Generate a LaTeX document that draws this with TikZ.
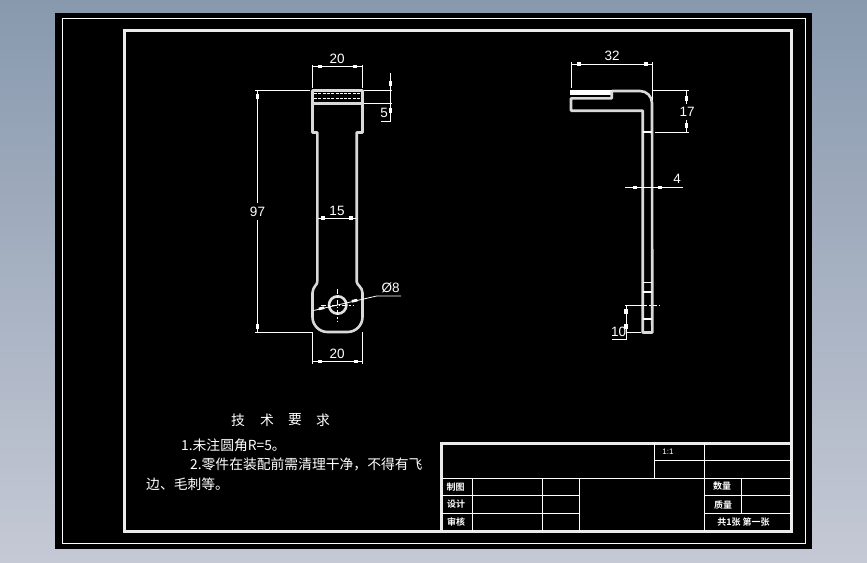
\documentclass[tikz,border=0pt]{standalone}
\usepackage{fontspec}
\setmainfont{Liberation Sans}
\newfontfamily\cjk{Noto Sans CJK SC}
\newfontfamily\cjkb{Noto Sans CJK SC Bold}
\definecolor{bgtop}{RGB}{136,153,174}
\definecolor{bgbot}{RGB}{197,201,213}
\newcommand{\hb}[2]{\fill[white] (#1-2,#2-1.6) rectangle (#1+2,#2+1.6);}
\newcommand{\vb}[2]{\fill[white] (#1-1.6,#2-2.5) rectangle (#1+1.6,#2+2.5);}
\tikzset{
  thinl/.style={draw=white,line width=0.8pt},
  cell/.style={draw=white,line width=1pt},
  obj/.style={draw=white,line width=1.9pt,line join=miter},
  objg/.style={draw=white!85!black,line width=2.6pt,line join=round},
  heavy/.style={draw=white!92!black,line width=2.6pt},
  dimtext/.style={text=white,font=\fontsize{13.5}{14}\selectfont,inner sep=0pt},
  note/.style={text=white,font=\fontsize{13.8}{14}\cjk,inner sep=0pt,anchor=west},
  tag/.style={text=white,font=\fontsize{9}{10}\cjkb,inner sep=0pt},
}
\begin{document}
\begin{tikzpicture}[x=1pt,y=-1pt]
\useasboundingbox (0,0) rectangle (867,562);
\shade[top color=bgtop,bottom color=bgbot] (0,0) rectangle (867,562);
\fill[black] (55,13) rectangle (812,549);
\draw[thinl] (62,18.5) rectangle (805,543.5);
\draw[heavy] (124.5,30.5) rectangle (791.5,531.5);

% ---------- title block
\draw[heavy] (441.5,531) -- (441.5,443.5) -- (791.5,443.5);
\draw[cell] (441,478.3) -- (791,478.3);
\draw[cell] (441,495.3) -- (579.3,495.3) (441,513.3) -- (579.3,513.3);
\draw[cell] (472.3,478) -- (472.3,531) (542.3,478) -- (542.3,531) (579.3,478) -- (579.3,531);
\draw[cell] (654.3,443) -- (654.3,478) (704.3,443) -- (704.3,531);
\draw[cell] (654.3,460.3) -- (791,460.3);
\draw[cell] (704.3,495.3) -- (791,495.3) (704.3,513.3) -- (791,513.3);
\draw[cell] (741.3,478) -- (741.3,513.3);
\node[tag] (t1) at (455.5,487) {制图};
\node[tag] (t2) at (456,504) {设计};
\node[tag] (t3) at (456,522) {审核};
\node[tag] (t4) at (722,486.5) {数量};
\node[tag] (t5) at (723,505) {质量};
\node[tag] (t6) at (743.5,522) {共1张 第一张};
\node[text=white,font=\fontsize{8}{9}\selectfont,inner sep=0pt] (t7) at (668,452) {1:1};

% ---------- notes
\node[note,anchor=center] (n1) at (238,420) {技};
\node[note,anchor=center] (n2) at (267,420) {术};
\node[note,anchor=center] (n3) at (295,420) {要};
\node[note,anchor=center] (n4) at (323,420) {求};
\node[note] (l1) at (181,445.5) {1.未注圆角R=5。};
\node[note] (l2) at (190,464) {2.零件在装配前需清理干净，不得有飞};
\node[note] (l3) at (146,484.5) {边、毛刺等。};

% ---------- front view
\draw[objg] (317.3,281.7) -- (317.3,132.5) -- (312.5,132.5) -- (312.5,90.5) -- (362.5,90.5) -- (362.5,132.5) -- (356.7,132.5) -- (356.7,281.7)
  .. controls (356.7,285) and (362.5,287) .. (362.5,293) -- (362.5,317) arc[start angle=0,end angle=90,radius=15] -- (327.5,332) arc[start angle=90,end angle=180,radius=15] -- (312.5,293)
  .. controls (312.5,287) and (317.3,285) .. (317.3,281.7);
\draw[objg] (312.5,103.5) -- (362.5,103.5);
\draw[draw=white,line width=0.9pt,dash pattern=on 3pt off 1.3pt] (314,93.5) -- (361,93.5) (314,98.7) -- (361,98.7);
\draw[draw=white!88!black,line width=2.6pt] (337.7,305) circle[radius=8.7];
\draw[draw=white,line width=0.7pt,dash pattern=on 5pt off 2pt on 1.5pt off 2pt] (337.7,289) -- (337.7,322) (321,305) -- (354,305);

% dimensions, front view
\draw[thinl] (312.5,64.5) -- (312.5,88) (362.5,64.5) -- (362.5,88) (312.5,66) -- (362.5,66);
\hb{320}{66.5}\hb{354.5}{66.5}
\node[dimtext] (d20a) at (337.2,59) {20};

\draw[thinl] (364,90.5) -- (392,90.5) (364,103.3) -- (392,103.3);
\draw[thinl] (390.3,73) -- (390.3,121) -- (381,121);
\vb{390.3}{83.5}\vb{390.3}{110.5}
\node[dimtext] (d5) at (384,113) {5};

\draw[thinl] (255,90.5) -- (310,90.5) (255,332) -- (312,332);
\draw[thinl] (257.5,90.5) -- (257.5,203) (257.5,220) -- (257.5,332);
\vb{257.5}{96.5}\vb{257.5}{326.5}
\node[dimtext] (d97) at (257.5,211.5) {97};

\draw[thinl] (318,218) -- (356,218);
\hb{323}{218}\hb{351}{218}
\node[dimtext] (d15) at (337,211) {15};

\draw[thinl] (312.5,332) -- (312.5,363.5) (362.5,332) -- (362.5,363.5) (312.5,361.7) -- (362.5,361.7);
\hb{319.5}{361.7}\hb{355.5}{361.7}
\node[dimtext] (d20b) at (337.2,354) {20};

\draw[thinl] (313.5,310.5) -- (376.7,296) -- (401,296);
\fill[white] (318.5,307.6) -- (324,306.4) -- (324.6,309) -- (319,310.2) -- cycle;
\fill[white] (351.5,300) -- (357,298.8) -- (357.6,301.4) -- (352.1,302.6) -- cycle;
\node[dimtext] (dphi) at (390.5,288) {Ø8};

% ---------- side view
\fill[white] (570,89.8) rectangle (611.7,94.6);
\draw[objg] (612,91) -- (640,91) arc[start angle=-90,end angle=0,radius=12] -- (652.3,332.5) -- (642.7,332.5) -- (642.7,110.7) -- (571,110.7) -- (571,98.3) -- (611.7,98.3) -- (611.7,91);
\draw[obj] (643,132.3) -- (652,132.3) (643,291.7) -- (652,291.7) (643,319) -- (652,319);
\draw[cell] (643,282.3) -- (652,282.3);

% dimensions, side view
\draw[thinl] (571.5,62) -- (571.5,88) (652.5,62) -- (652.5,100) (571.5,64) -- (652.5,64);
\hb{578.5}{64}\hb{646}{64}
\node[dimtext] (d32) at (612,56) {32};

\draw[thinl] (653,90.7) -- (689,90.7) (655,132.3) -- (689,132.3);
\draw[thinl] (686.7,90.7) -- (686.7,104) (686.7,120) -- (686.7,132.3);
\vb{686.7}{98.5}\vb{686.7}{125}
\node[dimtext] (d17) at (687,112) {17};

\draw[thinl] (625,187.3) -- (683,187.3);
\hb{635}{187.3}\hb{660}{187.3}
\node[dimtext] (d4) at (677,179) {4};

\draw[thinl] (625,305.3) -- (643,305.3);
\draw[draw=white,line width=0.8pt,dash pattern=on 4pt off 2pt on 1.5pt off 2pt] (643,305.3) -- (659,305.3);
\draw[thinl] (626,305.3) -- (626,339.3) -- (612,339.3) (626,332.5) -- (641,332.5);
\vb{626}{311.5}\vb{626}{326}
\node[dimtext] (d10) at (618.5,332) {10};
\end{tikzpicture}
\end{document}
